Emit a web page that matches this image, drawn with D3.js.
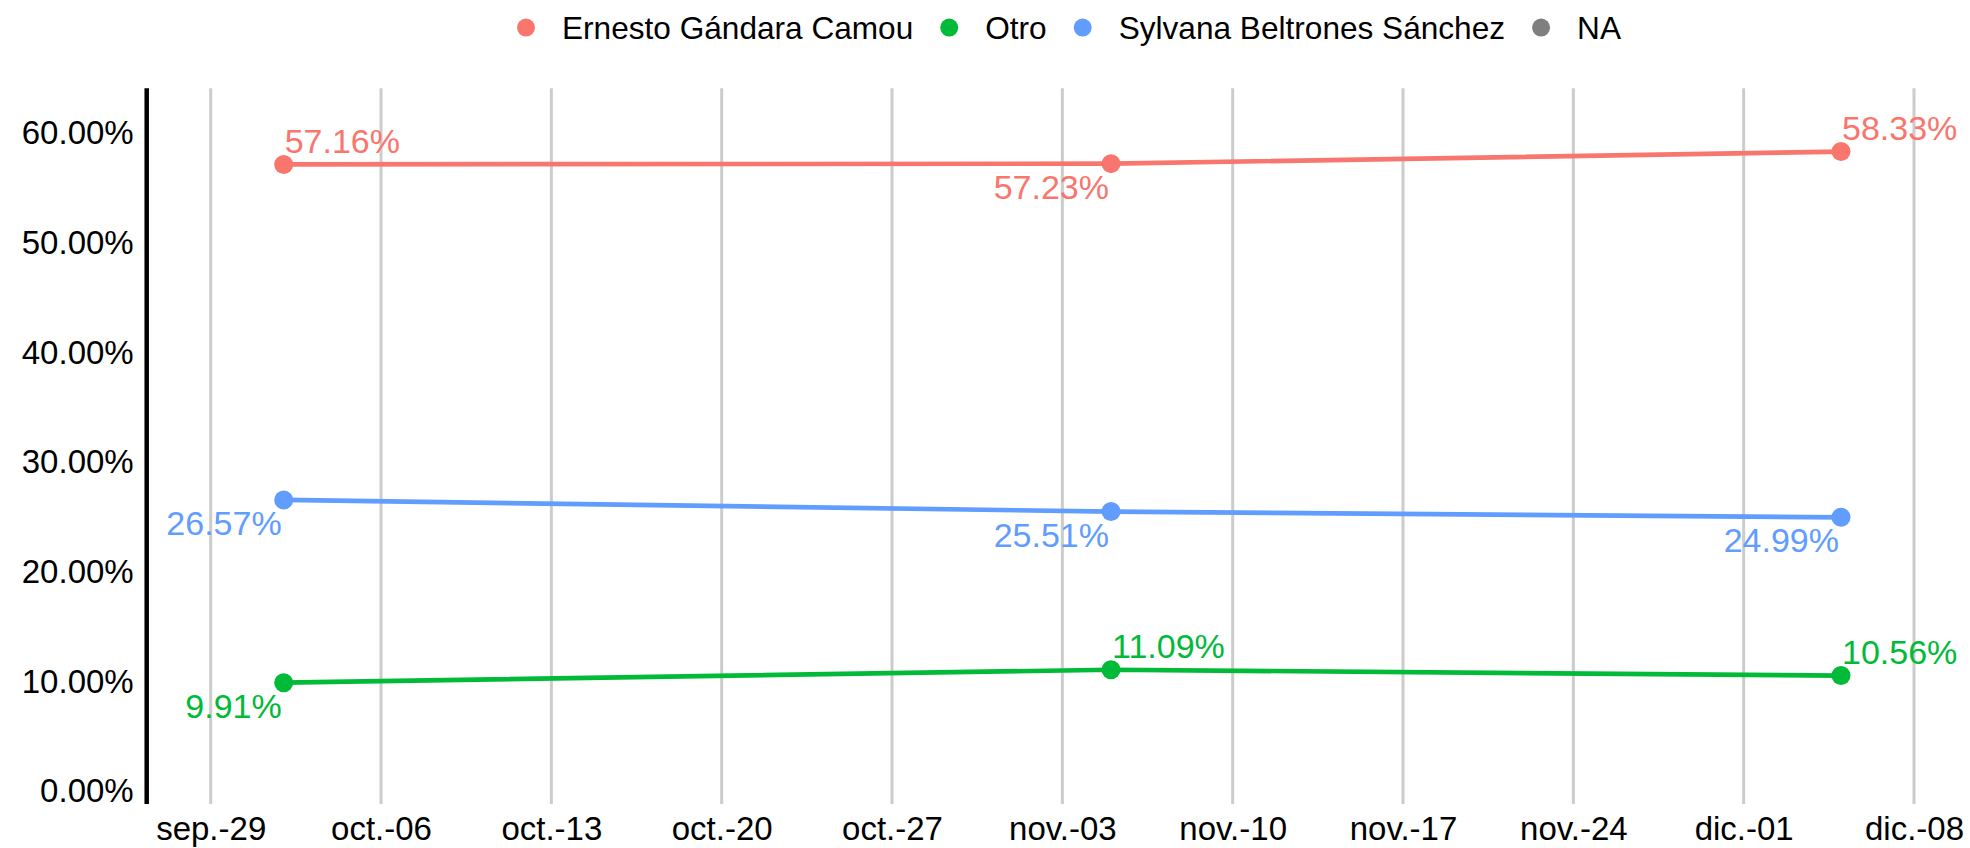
<!DOCTYPE html>
<html>
<head>
<meta charset="utf-8">
<script src="https://cdn.jsdelivr.net/npm/d3@7"></script>
<style>
  html, body { margin: 0; padding: 0; background: #ffffff; }
  svg { display: block; font-family: "Liberation Sans", Arial, Helvetica, sans-serif; }
</style>
</head>
<body>
<svg id="chart" width="1970" height="848"></svg>
<script>
// ---- Data ----
const seriesNames = ["Ernesto Gándara Camou", "Otro", "Sylvana Beltrones Sánchez", "NA"];
const seriesColors = ["#F8766D", "#00BA38", "#619CFF", "#7F7F7F"];
const dates = ["2024-10-02", "2024-11-05", "2024-12-05"];
const ernestoValues = [57.16, 57.23, 58.33];
const otroValues = [9.91, 11.09, 10.56];
const sylvanaValues = [26.57, 25.51, 24.99];
const yTickValues = [0, 10, 20, 30, 40, 50, 60];
const xTickDates = ["2024-09-29", "2024-10-06", "2024-10-13", "2024-10-20", "2024-10-27",
                    "2024-11-03", "2024-11-10", "2024-11-17", "2024-11-24", "2024-12-01", "2024-12-08"];
const monthAbbr = ["ene.", "feb.", "mar.", "abr.", "may.", "jun.", "jul.", "ago.", "sep.", "oct.", "nov.", "dic."];
// label placement per point: "above" (right of point, above) or "below" (left of point, below)
const ernestoLabelSide = ["above", "below", "above"];
const otroLabelSide = ["below", "above", "above"];
const sylvanaLabelSide = ["below", "below", "below"];

const parse = d3.utcParse("%Y-%m-%d");
const series = [
  { name: seriesNames[0], color: seriesColors[0], values: ernestoValues, sides: ernestoLabelSide },
  { name: seriesNames[1], color: seriesColors[1], values: otroValues, sides: otroLabelSide },
  { name: seriesNames[2], color: seriesColors[2], values: sylvanaValues, sides: sylvanaLabelSide }
];

// ---- Layout ----
const svg = d3.select("#chart");
const axisFont = 33;
const labelFont = 34;
const legendFont = 31.6;
const panelLeft = 146.7, panelTop = 88.3, panelBottom = 804;

const x = d3.scaleUtc()
  .domain([parse(xTickDates[0]), parse(xTickDates[xTickDates.length - 1])])
  .range([210.7, 1914]);
const y = d3.scaleLinear()
  .domain([-1.15, 64.1])
  .range([panelBottom, panelTop]);

// vertical grid lines
svg.append("g")
  .selectAll("line")
  .data(xTickDates.map(parse))
  .join("line")
  .attr("x1", d => x(d)).attr("x2", d => x(d))
  .attr("y1", panelTop).attr("y2", panelBottom)
  .attr("stroke", "#cccccc")
  .attr("stroke-width", 3);

// x axis labels
const xAxis = d3.axisBottom(x)
  .tickValues(xTickDates.map(parse))
  .tickSize(0)
  .tickPadding(0)
  .tickFormat(d => monthAbbr[d.getUTCMonth()] + "-" + d3.utcFormat("%d")(d));
const gx = svg.append("g").attr("transform", `translate(0,${panelBottom})`).call(xAxis);
gx.select(".domain").remove();
gx.selectAll("text")
  .attr("y", 36)
  .attr("dy", null)
  .attr("fill", "#000")
  .style("font-size", axisFont + "px")
  .style("font-family", '"Liberation Sans", Arial, sans-serif');

// y axis
const yAxis = d3.axisLeft(y)
  .tickValues(yTickValues)
  .tickSize(0)
  .tickPadding(13)
  .tickFormat(d => d3.format(".2f")(d) + "%");
const gy = svg.append("g").attr("transform", `translate(${panelLeft},0)`).call(yAxis);
gy.select(".domain").remove();
gy.selectAll("text")
  .attr("fill", "#000")
  .style("font-size", axisFont + "px")
  .style("font-family", '"Liberation Sans", Arial, sans-serif');
svg.append("line")
  .attr("x1", panelLeft).attr("x2", panelLeft)
  .attr("y1", panelTop).attr("y2", panelBottom)
  .attr("stroke", "#000").attr("stroke-width", 4.5);

// lines, points, labels
const line = d3.line()
  .x((d, i) => x(parse(dates[i])))
  .y(d => y(d));

series.forEach(s => {
  svg.append("path")
    .attr("d", line(s.values))
    .attr("fill", "none")
    .attr("stroke", s.color)
    .attr("stroke-width", 4.7);
  svg.append("g").selectAll("circle")
    .data(s.values)
    .join("circle")
    .attr("cx", (d, i) => x(parse(dates[i])))
    .attr("cy", d => y(d))
    .attr("r", 9.5)
    .attr("fill", s.color);
  svg.append("g").selectAll("text")
    .data(s.values)
    .join("text")
    .attr("x", (d, i) => x(parse(dates[i])) + (s.sides[i] === "above" ? 1 : -2))
    .attr("y", (d, i) => y(d) + (s.sides[i] === "above" ? -11.5 : 35))
    .attr("text-anchor", (d, i) => s.sides[i] === "above" ? "start" : "end")
    .attr("fill", s.color)
    .style("font-size", labelFont + "px")
    .text(d => d3.format(".2f")(d) + "%");
});

// legend
const legend = svg.append("g");
let lx = 526;
const ly = 27.6;
seriesNames.forEach((name, i) => {
  legend.append("circle")
    .attr("cx", lx).attr("cy", ly).attr("r", 9)
    .attr("fill", seriesColors[i]);
  const t = legend.append("text")
    .attr("x", lx + 36)
    .attr("y", ly)
    .attr("dy", "0.35em")
    .attr("fill", "#000")
    .style("font-size", legendFont + "px")
    .text(name);
  lx = lx + 36 + t.node().getComputedTextLength() + 36;
});
</script>
</body>
</html>
